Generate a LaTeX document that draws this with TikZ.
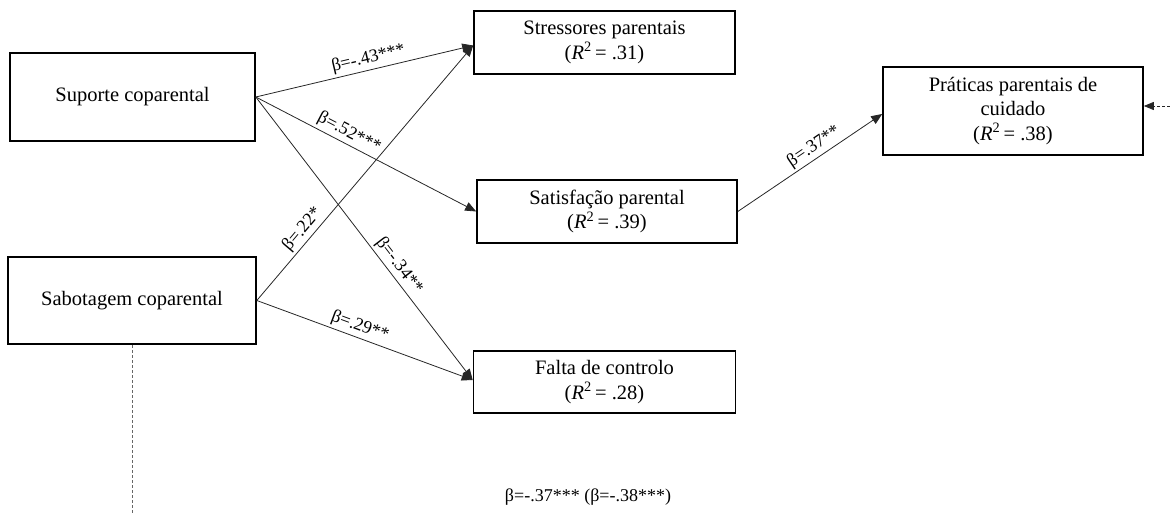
\documentclass[tikz,border=0pt]{standalone}
\usepackage{fontspec}
\setmainfont{Liberation Serif}
\usetikzlibrary{arrows.meta}
\tikzset{
  box/.style={draw=black, line width=1.6pt, rectangle, align=center, inner sep=0pt,
              font=\fontsize{20.5}{24.5}\selectfont},
  conn/.style={draw=black!85, line width=0.8pt, -{Triangle[length=11pt,width=9pt]}},
  lbl/.style={font=\fontsize{18}{21}\selectfont, sloped, above, inner sep=2.5pt},
  dashl/.style={draw=black!60, line width=0.8pt, dash pattern=on 3pt off 2pt},
  dasharr/.style={draw=black!85, line width=0.8pt, dash pattern=on 3pt off 2pt, -{Triangle[length=10pt,width=8pt]}},
  note/.style={font=\fontsize{18}{21}\selectfont, inner sep=0pt}
}
\newcommand{\Rsq}{(\textit{R}\textsuperscript{2}\,= }
\begin{document}
\begin{tikzpicture}[x=1pt,y=-1pt]
\useasboundingbox (0,0) rectangle (1170,513);
\node[box, minimum width=245pt, minimum height=88pt] (sup) at (132.5,97) {Suporte coparental};
\node[box, minimum width=248pt, minimum height=87pt] (sab) at (132,300.5) {Sabotagem coparental};
\node[box, minimum width=261pt, minimum height=63pt] (str) at (604.5,42.5) {Stressores parentais\\\Rsq .31)};
\node[box, minimum width=260pt, minimum height=63pt] (sat) at (607,211.5) {Satisfação parental\\\Rsq .39)};
\node[box, minimum width=262pt, minimum height=62pt] (fal) at (604.5,382) {Falta de controlo\\\Rsq .28)};
\node[box, minimum width=260pt, minimum height=88pt] (pra) at (1013,111) {Práticas parentais de\\cuidado\\\Rsq .38)};
\coordinate (rin) at (1170,106);
\coordinate (vend) at (132,513);
\draw[conn] (sup.east) -- node[lbl, pos=.53] {β=-.43***} ([yshift=-3pt]str.west);
\draw[conn] (sup.east) -- node[lbl, pos=.40] {β=.52***} (sat.west);
\draw[conn] (sup.east) -- node[lbl, pos=.62] {β=-.34**} ([yshift=2pt]fal.west);
\draw[conn] (sab.east) -- node[lbl, pos=.25] {β=.22*} ([yshift=-3pt]str.west);
\draw[conn] (sab.east) -- node[lbl, pos=.46] {β=.29**} ([yshift=2pt]fal.west);
\draw[conn] (sat.east) -- node[lbl, pos=.57] {β=.37**} ([yshift=-3pt]pra.west);
\draw[dasharr] (rin) -- (rin -| pra.east);
\draw[dashl] (sab.south) -- (vend);
\node[note] (tot) at (588,497) {β=-.37*** (β=-.38***)};
\end{tikzpicture}
\end{document}
